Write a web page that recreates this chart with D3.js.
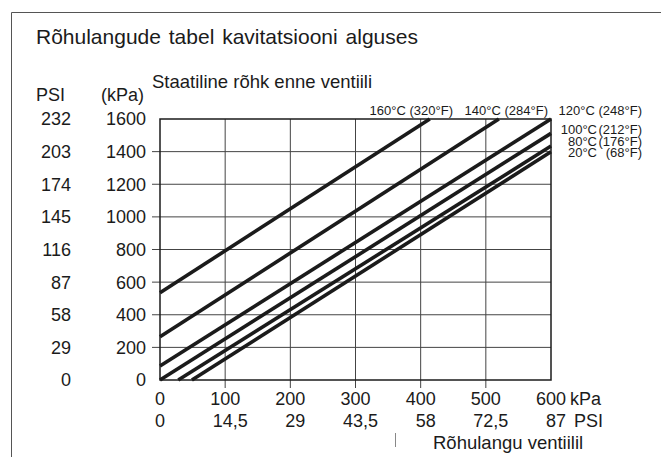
<!DOCTYPE html>
<html>
<head>
<meta charset="utf-8">
<script src="https://cdn.jsdelivr.net/npm/d3@7"></script>
<style>
  html, body { margin: 0; padding: 0; background: #fff; }
  svg { display: block; font-family: "Liberation Sans", Arial, Helvetica, sans-serif; }
</style>
</head>
<body>
<svg id="chart" width="661" height="457"></svg>
<script>
// ---- data ----
const title = "Rõhulangude tabel kavitatsiooni alguses";
const yTitle = "Staatiline rõhk enne ventiili";
const xTitle = "Rõhulangu ventiilil";
const kpaYTicks = [0, 200, 400, 600, 800, 1000, 1200, 1400, 1600];
const psiYLabels = ["0", "29", "58", "87", "116", "145", "174", "203", "232"];
const kpaXTicks = [0, 100, 200, 300, 400, 500, 600];
const psiXLabels = ["0", "14,5", "29", "43,5", "58", "72,5", "87"];
const seriesC = ["160°C", "140°C", "120°C", "100°C", "80°C", "20°C"];
const seriesF = ["(320°F)", "(284°F)", "(248°F)", "(212°F)", "(176°F)", "(68°F)"];
// start / end points of each line [kPa drop, kPa static]
const startX = [0, 0, 0, 0, 28, 49];
const startY = [535, 265, 86, 0, 0, 0];
const endX = [414, 520, 600, 600, 600, 600];
const endY = [1600, 1600, 1600, 1512, 1434, 1399];

// ---- layout ----
const svg = d3.select("#chart");
const x = d3.scaleLinear().domain([0, 600]).range([160, 551]);
const y = d3.scaleLinear().domain([0, 1600]).range([380, 119]);
const ink = "#1b1b1b";

// outer frame (left + top)
svg.append("path")
  .attr("d", "M11.5,457 V12.5 H661")
  .attr("fill", "none").attr("stroke", "#555").attr("stroke-width", 1);

svg.append("text").attr("x", 36).attr("y", 44)
  .attr("font-size", 21).attr("fill", ink).attr("word-spacing", 2).text(title);

svg.append("text").attr("x", 36).attr("y", 101).attr("font-size", 18).attr("fill", ink).text("PSI");
svg.append("text").attr("x", 101).attr("y", 101).attr("font-size", 18).attr("fill", ink).text("(kPa)");
svg.append("text").attr("x", 152).attr("y", 88).attr("font-size", 18.5).attr("fill", ink).text(yTitle);

// grid: horizontal
const g = svg.append("g");
g.selectAll("line.h").data(kpaYTicks.slice(1, -1)).join("line")
  .attr("x1", x(0) - 8).attr("x2", x(600))
  .attr("y1", d => y(d)).attr("y2", d => y(d))
  .attr("stroke", "#444").attr("stroke-width", 1);
// grid: vertical
g.selectAll("line.v").data(kpaXTicks.slice(1, -1)).join("line")
  .attr("y1", y(1600)).attr("y2", y(0) + 8)
  .attr("x1", d => x(d)).attr("x2", d => x(d))
  .attr("stroke", "#444").attr("stroke-width", 1);

// plot border
svg.append("rect")
  .attr("x", x(0)).attr("y", y(1600))
  .attr("width", x(600) - x(0)).attr("height", y(0) - y(1600))
  .attr("fill", "none").attr("stroke", ink).attr("stroke-width", 1.5);

// series lines
const lineGen = d3.line().x(d => x(d[0])).y(d => y(d[1]));
const lines = seriesC.map((c, i) => [[startX[i], startY[i]], [endX[i], endY[i]]]);
svg.append("g").selectAll("path").data(lines).join("path")
  .attr("d", lineGen)
  .attr("fill", "none").attr("stroke", ink).attr("stroke-width", 3.6)
  .attr("stroke-linecap", "butt");

// y labels
svg.append("g").selectAll("text").data(kpaYTicks).join("text")
  .attr("x", 146).attr("y", d => y(d)).attr("dy", "0.36em")
  .attr("text-anchor", "end").attr("font-size", 18).attr("fill", ink)
  .text(d => d);
svg.append("g").selectAll("text").data(psiYLabels).join("text")
  .attr("x", 71).attr("y", (d, i) => y(kpaYTicks[i])).attr("dy", "0.36em")
  .attr("text-anchor", "end").attr("font-size", 18).attr("fill", ink)
  .text(d => d);

// x labels
svg.append("g").selectAll("text").data(kpaXTicks).join("text")
  .attr("x", d => x(d)).attr("y", 405)
  .attr("text-anchor", "middle").attr("font-size", 18).attr("fill", ink)
  .text(d => d);
svg.append("text").attr("x", x(600) + 19).attr("y", 405)
  .attr("font-size", 18).attr("fill", ink).text("kPa");
svg.append("g").selectAll("text").data(psiXLabels).join("text")
  .attr("x", (d, i) => x(kpaXTicks[i]) + (i === 0 ? 0 : 5)).attr("y", 427)
  .attr("text-anchor", "middle").attr("font-size", 18).attr("fill", ink)
  .text(d => d);
svg.append("text").attr("x", x(600) + 23).attr("y", 427)
  .attr("font-size", 18).attr("fill", ink).text("PSI");

svg.append("line").attr("x1", 395.5).attr("x2", 395.5).attr("y1", 433).attr("y2", 447)
  .attr("stroke", "#888").attr("stroke-width", 1);
svg.append("text").attr("x", 433).attr("y", 449)
  .attr("font-size", 18.5).attr("fill", ink).text(xTitle);

// temperature labels: top row (anchored end)
const topEnds = [453, 548, 642];
[0, 1, 2].forEach(i => {
  svg.append("text").attr("x", topEnds[i]).attr("y", 115)
    .attr("text-anchor", "end").attr("font-size", 13).attr("fill", ink)
    .text(seriesC[i] + " " + seriesF[i]);
});
// right stack
const stackY = [134, 145.5, 157];
[3, 4, 5].forEach((i, k) => {
  svg.append("text").attr("x", 597).attr("y", stackY[k])
    .attr("text-anchor", "end").attr("font-size", 13).attr("fill", ink).text(seriesC[i]);
  svg.append("text").attr("x", 642).attr("y", stackY[k])
    .attr("text-anchor", "end").attr("font-size", 13).attr("fill", ink).text(seriesF[i]);
});
</script>
</body>
</html>
